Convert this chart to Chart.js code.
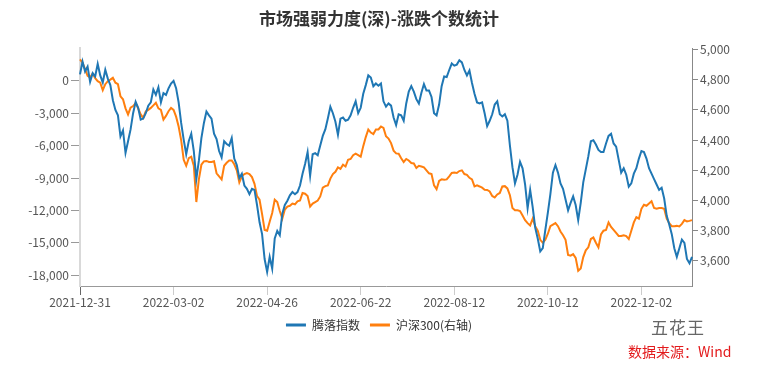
<!DOCTYPE html>
<html><head><meta charset="utf-8">
<script src="https://cdn.jsdelivr.net/npm/chart.js@4"></script>
<style>
html,body{margin:0;padding:0;background:#fff;}
#wrap{position:relative;width:758px;height:367px;overflow:hidden;}
canvas{display:block;}
.wm1{position:absolute;left:651px;top:314px;font:17px "Noto Sans CJK SC";color:#666;letter-spacing:1px;}
.wm2{position:absolute;left:628px;top:341px;font:14px "Noto Sans CJK SC";color:#e31a1c;}
</style></head>
<body><div id="wrap"><canvas id="c" width="758" height="367"></canvas>
<div class="wm1">五花王</div><div class="wm2">数据来源：Wind</div></div>
<script>
const dates = [
'2021-12-31',
'2022-01-04','2022-01-05','2022-01-06','2022-01-07','2022-01-10','2022-01-11','2022-01-12','2022-01-13','2022-01-14','2022-01-17','2022-01-18','2022-01-19','2022-01-20','2022-01-21','2022-01-24','2022-01-25','2022-01-26','2022-01-27','2022-01-28',
'2022-02-07','2022-02-08','2022-02-09','2022-02-10','2022-02-11','2022-02-14','2022-02-15','2022-02-16','2022-02-17','2022-02-18','2022-02-21','2022-02-22','2022-02-23','2022-02-24','2022-02-25','2022-02-28',
'2022-03-01','2022-03-02','2022-03-03','2022-03-04','2022-03-07','2022-03-08','2022-03-09','2022-03-10','2022-03-11','2022-03-14','2022-03-15','2022-03-16','2022-03-17','2022-03-18','2022-03-21','2022-03-22','2022-03-23','2022-03-24','2022-03-25','2022-03-28','2022-03-29','2022-03-30','2022-03-31',
'2022-04-01','2022-04-06','2022-04-07','2022-04-08','2022-04-11','2022-04-12','2022-04-13','2022-04-14','2022-04-15','2022-04-18','2022-04-19','2022-04-20','2022-04-21','2022-04-22','2022-04-25','2022-04-26','2022-04-27','2022-04-28','2022-04-29',
'2022-05-05','2022-05-06','2022-05-09','2022-05-10','2022-05-11','2022-05-12','2022-05-13','2022-05-16','2022-05-17','2022-05-18','2022-05-19','2022-05-20','2022-05-23','2022-05-24','2022-05-25','2022-05-26','2022-05-27','2022-05-30','2022-05-31',
'2022-06-01','2022-06-02','2022-06-06','2022-06-07','2022-06-08','2022-06-09','2022-06-10','2022-06-13','2022-06-14','2022-06-15','2022-06-16','2022-06-17','2022-06-20','2022-06-21','2022-06-22','2022-06-23','2022-06-24','2022-06-27','2022-06-28','2022-06-29','2022-06-30',
'2022-07-01','2022-07-04','2022-07-05','2022-07-06','2022-07-07','2022-07-08','2022-07-11','2022-07-12','2022-07-13','2022-07-14','2022-07-15','2022-07-18','2022-07-19','2022-07-20','2022-07-21','2022-07-22','2022-07-25','2022-07-26','2022-07-27','2022-07-28','2022-07-29',
'2022-08-01','2022-08-02','2022-08-03','2022-08-04','2022-08-05','2022-08-08','2022-08-09','2022-08-10','2022-08-11','2022-08-12','2022-08-15','2022-08-16','2022-08-17','2022-08-18','2022-08-19','2022-08-22','2022-08-23','2022-08-24','2022-08-25','2022-08-26','2022-08-29','2022-08-30','2022-08-31',
'2022-09-01','2022-09-02','2022-09-05','2022-09-06','2022-09-07','2022-09-08','2022-09-09','2022-09-13','2022-09-14','2022-09-15','2022-09-16','2022-09-19','2022-09-20','2022-09-21','2022-09-22','2022-09-23','2022-09-26','2022-09-27','2022-09-28','2022-09-29','2022-09-30',
'2022-10-10','2022-10-11','2022-10-12','2022-10-13','2022-10-14','2022-10-17','2022-10-18','2022-10-19','2022-10-20','2022-10-21','2022-10-24','2022-10-25','2022-10-26','2022-10-27','2022-10-28','2022-10-31',
'2022-11-01','2022-11-02','2022-11-03','2022-11-04','2022-11-07','2022-11-08','2022-11-09','2022-11-10','2022-11-11','2022-11-14','2022-11-15','2022-11-16','2022-11-17','2022-11-18','2022-11-21','2022-11-22','2022-11-23','2022-11-24','2022-11-25','2022-11-28','2022-11-29','2022-11-30',
'2022-12-01','2022-12-02','2022-12-05','2022-12-06','2022-12-07','2022-12-08','2022-12-09','2022-12-12','2022-12-13','2022-12-14','2022-12-15','2022-12-16','2022-12-19','2022-12-20','2022-12-21','2022-12-22','2022-12-23','2022-12-26','2022-12-27','2022-12-28','2022-12-29','2022-12-30'
];

const advDecline = [
600,1780,860,1320,-100,700,400,1570,500,-150,
1017,200,-400,-1800,-2700,-3200,-5150,-4600,-6680,-5600,
-4500,-3000,-1950,-2500,-3600,-3500,-3000,-2300,-2000,-800,
-1300,-600,-2000,-1140,-1300,-700,-250,0,-680,-2000,
-3900,-5450,-6800,-5600,-4900,-6500,-9100,-7400,-5300,-3900,
-2850,-3200,-3500,-4900,-5400,-6500,-7100,-5600,-5850,-6000,
-5300,-7200,-7800,-9000,-8600,-9700,-10000,-10500,-10000,-10100,
-11500,-13100,-14200,-16500,-17700,-16300,-17400,-14600,-13900,-14300,
-12300,-11500,-11100,-10600,-10300,-10500,-10300,-9700,-8600,-7700,
-6600,-8800,-6800,-6700,-6900,-6000,-5100,-4500,-3500,-2400,
-3000,-3800,-5000,-3500,-3400,-3700,-3600,-3200,-2500,-1900,
-3000,-2500,-1200,-400,500,300,-500,-250,-450,-250,
-1900,-2400,-2100,-2300,-3400,-4100,-3100,-3200,-3700,-2100,
-1000,-500,-1000,-1700,-2100,-1100,-300,-900,-900,-1500,
-3000,-3200,-2200,-500,400,350,1000,1600,1400,1500,
1900,1700,1000,500,950,-200,-1200,-2000,-2100,-2000,
-3000,-4200,-3700,-3100,-2200,-1900,-3100,-3300,-3100,-3700,
-6000,-8000,-9500,-8700,-7500,-8100,-9600,-11800,-10100,-11700,
-13600,-14600,-15800,-15500,-13800,-12200,-10500,-8500,-7800,-8500,
-9500,-10000,-11000,-12000,-11300,-10700,-11500,-12900,-11300,-9400,
-8200,-7000,-5600,-5500,-5900,-6400,-6600,-6600,-5800,-5100,
-4900,-5800,-6100,-7300,-8500,-8100,-8700,-9800,-9500,-8600,
-8100,-7200,-6500,-6600,-7200,-8100,-8600,-9100,-9600,-10100,
-9900,-10900,-12500,-13300,-14200,-15500,-16300,-15500,-14700,-15000,
-16500,-16900,-16300
];

const hs300 = [
4934,4912,4870,4825,4815,4840,4810,4790,4780,4730,
4770,4790,4800,4812,4780,4770,4690,4670,4610,4570,
4615,4625,4645,4610,4570,4547,4590,4600,4613,4630,
4647,4610,4600,4536,4560,4591,4613,4600,4555,4490,
4400,4270,4230,4280,4290,4230,3990,4140,4237,4259,
4262,4255,4255,4260,4180,4160,4140,4230,4250,4265,
4265,4240,4200,4120,4160,4175,4182,4175,4155,4110,
4030,4005,3910,3805,3800,3860,3917,4005,3990,3930,
3880,3940,3960,3965,3980,3975,3995,4000,4050,4045,
4030,3960,3980,3990,4000,4027,4085,4095,4100,4145,
4175,4190,4220,4210,4237,4225,4270,4275,4300,4310,
4300,4290,4360,4420,4470,4450,4440,4470,4470,4490,
4480,4425,4410,4380,4330,4312,4310,4280,4255,4275,
4265,4248,4245,4215,4230,4225,4220,4200,4180,4175,
4100,4075,4130,4140,4137,4140,4160,4182,4185,4182,
4195,4200,4175,4170,4150,4140,4093,4100,4093,4085,
4071,4070,4060,4030,4020,4040,4050,4093,4095,4080,
4035,3950,3935,3935,3930,3900,3870,3850,3835,3880,
3830,3800,3740,3720,3740,3780,3830,3840,3850,3830,
3795,3770,3740,3640,3635,3645,3620,3535,3550,3625,
3670,3690,3745,3755,3720,3690,3775,3800,3805,3855,
3825,3805,3785,3765,3765,3770,3765,3745,3800,3855,
3890,3880,3945,3972,3965,3980,3995,3950,3945,3950,
3950,3945,3880,3850,3830,3830,3832,3828,3845,3870,
3862,3865,3870
];

const xTickLabels = ['2021-12-31','2022-03-02','2022-04-26','2022-06-22','2022-08-12','2022-10-12','2022-12-02'];
const leftTicks = [0,-3000,-6000,-9000,-12000,-15000,-18000];
const rightTicks = [3600,3800,4000,4200,4400,4600,4800,5000];
const seriesNames = ['腾落指数','沪深300(右轴)'];
const titleText = '市场强弱力度(深)-涨跌个数统计';

const FONT = '"Noto Sans CJK SC", "Noto Sans", sans-serif';
const fmt = v => Number(v).toLocaleString('en-US');

new Chart(document.getElementById('c'), {
  type: 'line',
  data: {
    labels: dates,
    datasets: [
      { label: seriesNames[0], data: advDecline, yAxisID: 'y', borderColor: '#1f77b4', backgroundColor: '#1f77b4', borderWidth: 2, pointRadius: 0, tension: 0 },
      { label: seriesNames[1], data: hs300, yAxisID: 'y1', borderColor: '#ff7f0e', backgroundColor: '#ff7f0e', borderWidth: 2, pointRadius: 0, tension: 0 }
    ]
  },
  options: {
    responsive: false,
    animation: false,
    devicePixelRatio: 1,
    layout: { padding: { left: 0, right: 0, top: 0, bottom: 26 } },
    plugins: {
      tooltip: { enabled: false },
      title: {
        display: true, text: titleText, color: '#333',
        font: { family: FONT, size: 17, weight: 'bold' },
        padding: { top: 8, bottom: 20 }
      },
      legend: {
        position: 'bottom',
        labels: {
          color: '#333', boxWidth: 20, boxHeight: 3, padding: 10,
          font: { family: FONT, size: 12 },
          generateLabels: (chart) => Chart.defaults.plugins.legend.labels.generateLabels(chart).map(l => Object.assign(l, { lineWidth: 0 }))
        }
      }
    },
    scales: {
      x: {
        type: 'category', offset: false,
        afterBuildTicks: (axis) => { axis.ticks = axis.ticks.filter(t => xTickLabels.includes(dates[t.value])); },
        afterFit: (s) => { s.height = 23; },
        ticks: { autoSkip: false, maxRotation: 0, color: '#555', padding: 0, font: { family: FONT, size: 12 } },
        grid: { drawOnChartArea: false, drawTicks: true, tickLength: 9, color: (ctx) => ctx.index === 0 ? '#666' : '#ccc' },
        border: { color: '#999', width: 1 }
      },
      y: {
        position: 'left', min: -19000, max: 3000,
        afterBuildTicks: (axis) => { axis.ticks = leftTicks.map(v => ({ value: v })); },
        afterFit: (s) => { s.width = 80; },
        ticks: { color: '#555', padding: 2, font: { family: FONT, size: 12 }, callback: (v) => fmt(v) },
        grid: { drawOnChartArea: false, drawTicks: true, tickLength: 9, color: '#999' },
        border: { color: '#d9d9d9', width: 2 }
      },
      y1: {
        position: 'right', min: 3434, max: 5007,
        afterBuildTicks: (axis) => { axis.ticks = rightTicks.map(v => ({ value: v })); },
        afterFit: (s) => { s.width = 66; },
        ticks: { color: '#555', padding: 2, font: { family: FONT, size: 12 }, callback: (v) => fmt(v) },
        grid: { drawOnChartArea: false, drawTicks: true, tickLength: 6, color: '#888' },
        border: { color: '#888', width: 1 }
      }
    }
  }
});
</script></body></html>
